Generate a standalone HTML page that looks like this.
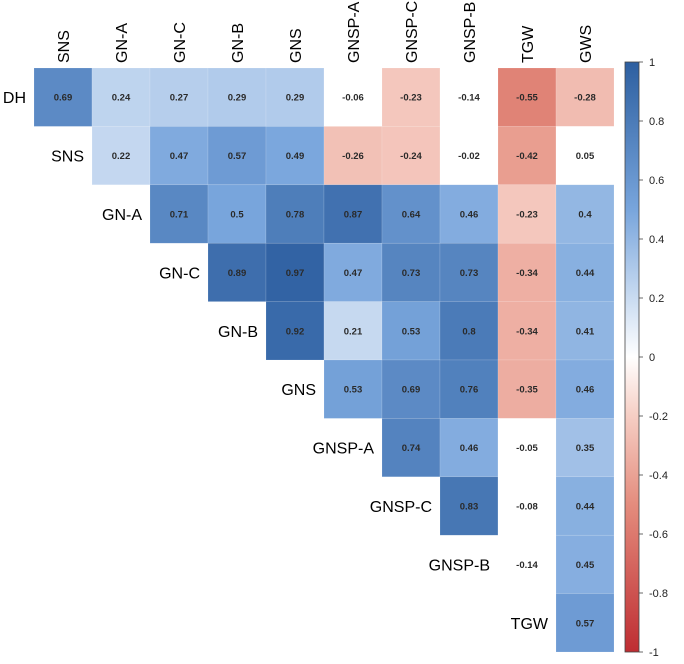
<!DOCTYPE html>
<html><head><meta charset="utf-8"><style>
body{margin:0;background:#fff;width:684px;height:659px;overflow:hidden;font-family:"Liberation Sans",sans-serif}
</style></head><body>
<svg id="chart" width="684" height="659" xmlns="http://www.w3.org/2000/svg"></svg>
<script>
const rowLabels = ["DH","SNS","GN-A","GN-C","GN-B","GNS","GNSP-A","GNSP-C","GNSP-B","TGW"];
const colLabels = ["SNS","GN-A","GN-C","GN-B","GNS","GNSP-A","GNSP-C","GNSP-B","TGW","GWS"];
const rowDH = [0.69,0.24,0.27,0.29,0.29,-0.06,-0.23,-0.14,-0.55,-0.28];
const rowSNS = [0.22,0.47,0.57,0.49,-0.26,-0.24,-0.02,-0.42,0.05];
const rowGNA = [0.71,0.5,0.78,0.87,0.64,0.46,-0.23,0.4];
const rowGNC = [0.89,0.97,0.47,0.73,0.73,-0.34,0.44];
const rowGNB = [0.92,0.21,0.53,0.8,-0.34,0.41];
const rowGNS = [0.53,0.69,0.76,-0.35,0.46];
const rowGNSPA = [0.74,0.46,-0.05,0.35];
const rowGNSPC = [0.83,-0.08,0.44];
const rowGNSPB = [-0.14,0.45];
const rowTGW = [0.57];
const rows = [rowDH,rowSNS,rowGNA,rowGNC,rowGNB,rowGNS,rowGNSPA,rowGNSPC,rowGNSPB,rowTGW];
const ticks = [1,0.8,0.6,0.4,0.2,0,-0.2,-0.4,-0.6,-0.8,-1];

const NS="http://www.w3.org/2000/svg";
const svg=document.getElementById('chart');
const X0=34,Y0=68,CW=58,CH=58.4;
const xPos=c=>X0+c*CW, yPos=r=>Y0+r*CH;
const stops=[[-1,[190,45,50]],[-0.5,[228,140,125]],[-0.2,[246,206,196]],[0,[255,255,255]],[0.5,[120,165,220]],[1,[45,95,160]]];
function color(v){
  if(Math.abs(v)<0.15) return '#ffffff';
  for(let i=0;i<stops.length-1;i++){const[a,ca]=stops[i],[b,cb]=stops[i+1];if(v<=b){const t=(v-a)/(b-a);return 'rgb('+ca.map((x,k)=>Math.round(x+(cb[k]-x)*t)).join(',')+')';}}
  return 'rgb(45,95,160)';}
function mk(tag,attrs,parent){const e=document.createElementNS(NS,tag);for(const k in attrs)e.setAttribute(k,attrs[k]);(parent||svg).appendChild(e);return e;}

rows.forEach((vals,r)=>{
  vals.forEach((v,i)=>{
    const c=r+i;
    const g=mk('g',{});
    
    
    mk('rect',{x:xPos(c),y:yPos(r),width:CW,height:CH,fill:color(v),stroke:'rgba(255,255,255,0.25)','stroke-width':0.5},g);
    const t=mk('text',{x:xPos(c)+CW/2,y:yPos(r)+CH/2+3.5,'text-anchor':'middle','font-size':'9.5','font-weight':'bold',fill:'#2a2a2a'},g);
    t.textContent=String(v);
  });
  const lt=mk('text',{x:xPos(r)-8,y:yPos(r)+CH/2+6,'text-anchor':'end','font-size':'16',fill:'#000'});
  
  
  lt.textContent=rowLabels[r];
});
colLabels.forEach((l,c)=>{
  const cx=xPos(c)+CW/2+6, cy=63;
  const t=mk('text',{x:cx,y:cy,transform:`rotate(-90 ${cx} ${cy})`,'font-size':'16',fill:'#000'});
  
  
  t.textContent=l;
});
const BX=625,BY=62,BW=14,BH=590;
const defs=mk('defs',{});
const grad=mk('linearGradient',{id:'cb',x1:0,y1:0,x2:0,y2:1},defs);
stops.slice().reverse().forEach(([v,c])=>mk('stop',{offset:(1-v)/2,'stop-color':'rgb('+c.join(',')+')'},grad));
const cbg=mk('g',{});


mk('rect',{x:BX,y:BY,width:BW,height:BH,fill:'url(#cb)',stroke:'#444','stroke-width':0.8},cbg);
ticks.forEach(v=>{
  const y=BY+(1-v)/2*BH;
  mk('line',{x1:BX+BW,x2:BX+BW+4,y1:y,y2:y,stroke:'#444','stroke-width':0.8},cbg);
  const t=mk('text',{x:BX+BW+10,y:y+4,'font-size':'11',fill:'#222'},cbg);
  
  
  t.textContent=String(v);
});
</script>
</body></html>
